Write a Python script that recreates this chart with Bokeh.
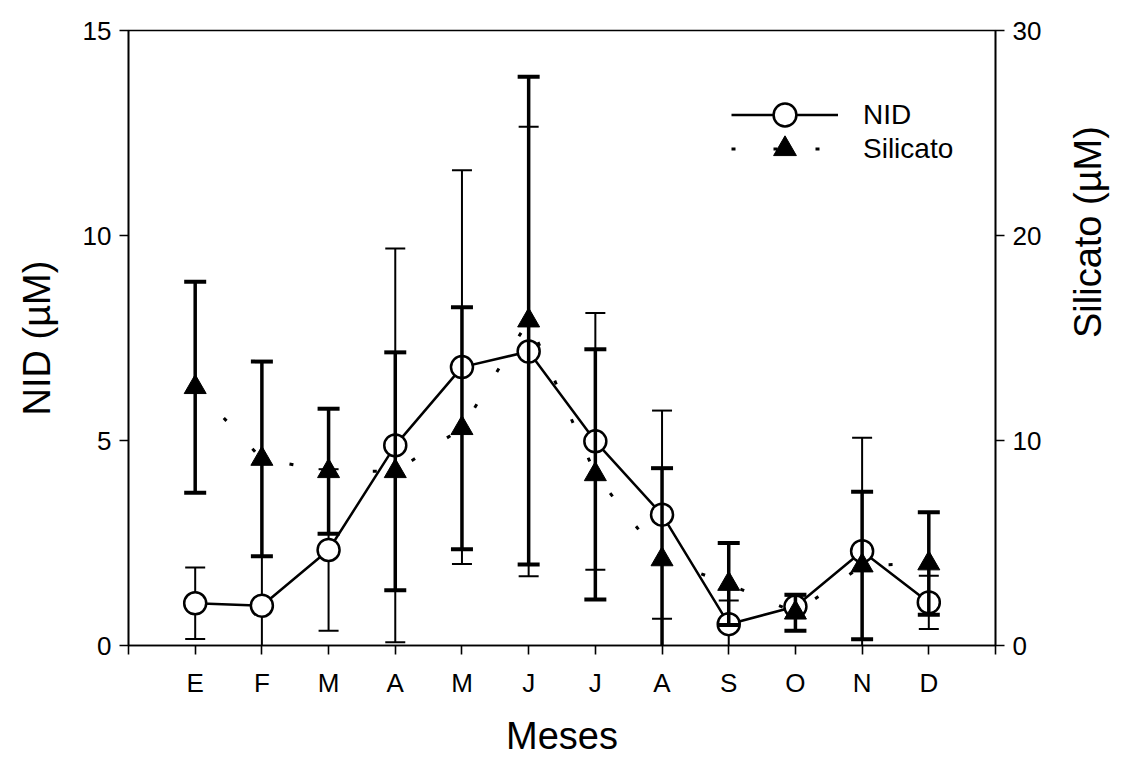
import math
from bokeh.plotting import figure
from bokeh.models import (Range1d, LinearAxis, FixedTicker, ColumnDataSource,
                          Legend, LegendItem)
from bokeh.embed import file_html
from bokeh.resources import INLINE

# Monthly means and errors
months = ["E", "F", "M", "A", "M", "J", "J", "A", "S", "O", "N", "D"]
month_pos = [1, 2, 3, 4, 5, 6, 7, 8, 9, 10, 11, 12]
nid = [1.03, 0.97, 2.33, 4.88, 6.79, 7.17, 4.98, 3.19, 0.52, 0.95, 2.30, 1.05]
nid_err = [0.87, 1.20, 1.97, 4.80, 4.80, 5.48, 3.13, 2.54, 0.58, 0.27, 2.77, 0.65]
silicato = [12.6, 9.1, 8.5, 8.5, 10.6, 15.85, 8.35, 4.2, 3.0, 1.6, 3.9, 4.0]
silicato_err = [5.15, 4.75, 3.05, 5.8, 5.9, 11.9, 6.1, 4.45, 2.0, 0.88, 3.6, 2.5]

left_ticks = [0, 5, 10, 15]
right_ticks = [0, 10, 20, 30]
x_ticks = list(range(0, 14))

FONT = "Liberation Sans"

nid_src = ColumnDataSource(dict(
    x=month_pos, y=nid,
    lo=[v - e for v, e in zip(nid, nid_err)],
    hi=[v + e for v, e in zip(nid, nid_err)],
))
si_src = ColumnDataSource(dict(
    x=month_pos, y=silicato,
    lo=[v - e for v, e in zip(silicato, silicato_err)],
    hi=[v + e for v, e in zip(silicato, silicato_err)],
))

p = figure(width=1133, height=759, x_range=Range1d(0, 13), y_range=Range1d(0, 15),
           output_backend="svg", toolbar_location=None,
           min_border_left=128, min_border_right=136,
           min_border_top=30, min_border_bottom=114)
p.extra_y_ranges = {"si": Range1d(0, 30)}
p.grid.visible = False
p.outline_line_color = "black"
p.outline_line_width = 1.6
p.background_fill_color = "white"
p.border_fill_color = "white"

# NID: thin error bars, solid line, open circles
p.segment(x0="x", y0="lo", x1="x", y1="hi", source=nid_src,
          line_color="black", line_width=2)
p.scatter("x", "hi", source=nid_src, marker="dash", size=20,
          line_color="black", line_width=2)
p.scatter("x", "lo", source=nid_src, marker="dash", size=20,
          line_color="black", line_width=2)
nid_line = p.line("x", "y", source=nid_src, line_color="black", line_width=2.5)
nid_pts = p.scatter("x", "y", source=nid_src, marker="circle", size=22,
                    fill_color="white", line_color="black", line_width=2.5)

# Silicato: dotted line, thick error bars, filled triangles (right axis)
si_line = p.line("x", "y", source=si_src, y_range_name="si", line_color="black",
                 line_width=3, line_dash="4 38")
p.segment(x0="x", y0="lo", x1="x", y1="hi", source=si_src, y_range_name="si",
          line_color="black", line_width=3.5)
p.scatter("x", "hi", source=si_src, y_range_name="si", marker="dash", size=22,
          line_color="black", line_width=4)
p.scatter("x", "lo", source=si_src, y_range_name="si", marker="dash", size=22,
          line_color="black", line_width=4)
si_pts = p.scatter("x", "y", source=si_src, y_range_name="si", marker="triangle",
                   size=22, fill_color="black", line_color="black", line_width=1)

# Axes
def style_axis(ax):
    ax.axis_line_color = "black"
    ax.axis_line_width = 1.6
    ax.major_tick_line_color = "black"
    ax.major_tick_line_width = 1.6
    ax.major_tick_in = 0
    ax.major_tick_out = 9
    ax.minor_tick_line_color = None
    ax.major_label_text_font = FONT
    ax.major_label_text_font_size = "26px"
    ax.major_label_text_color = "black"
    ax.axis_label_text_font = FONT
    ax.axis_label_text_font_size = "38px"
    ax.axis_label_text_font_style = "normal"
    ax.axis_label_text_color = "black"

xa = p.xaxis[0]
style_axis(xa)
xa.ticker = FixedTicker(ticks=x_ticks)
overrides = {0: "", 13: ""}
for pos, m in zip(month_pos, months):
    overrides[pos] = m
xa.major_label_overrides = overrides
xa.axis_label = "Meses"
xa.major_label_standoff = 13
xa.axis_label_standoff = 14

ya = p.yaxis[0]
style_axis(ya)
ya.ticker = FixedTicker(ticks=left_ticks)
ya.axis_label = "NID (µM)"
ya.major_label_standoff = 8
ya.axis_label_standoff = 22

ra = LinearAxis(y_range_name="si", ticker=FixedTicker(ticks=right_ticks),
                axis_label="Silicato (µM)")
style_axis(ra)
ra.major_label_standoff = 8
ra.axis_label_standoff = 44
ra.axis_label_orientation = math.pi / 2
p.add_layout(ra, "right")

# Legend: one box per series so both rows can use large symbols
def make_legend(label, renderers, y):
    lg = Legend(items=[LegendItem(label=label, renderers=renderers)], location=(603, y))
    lg.glyph_width = 107
    lg.glyph_height = 57
    lg.padding = 0
    lg.margin = 0
    lg.label_standoff = 25
    lg.label_text_font = FONT
    lg.label_text_font_size = "28px"
    lg.label_text_color = "black"
    lg.border_line_color = None
    lg.background_fill_alpha = 0
    return lg

p.add_layout(make_legend("NID", [nid_line, nid_pts], 502))
p.add_layout(make_legend("Silicato", [si_line, si_pts], 468))

open("out.html", "w").write(file_html(p, INLINE))
